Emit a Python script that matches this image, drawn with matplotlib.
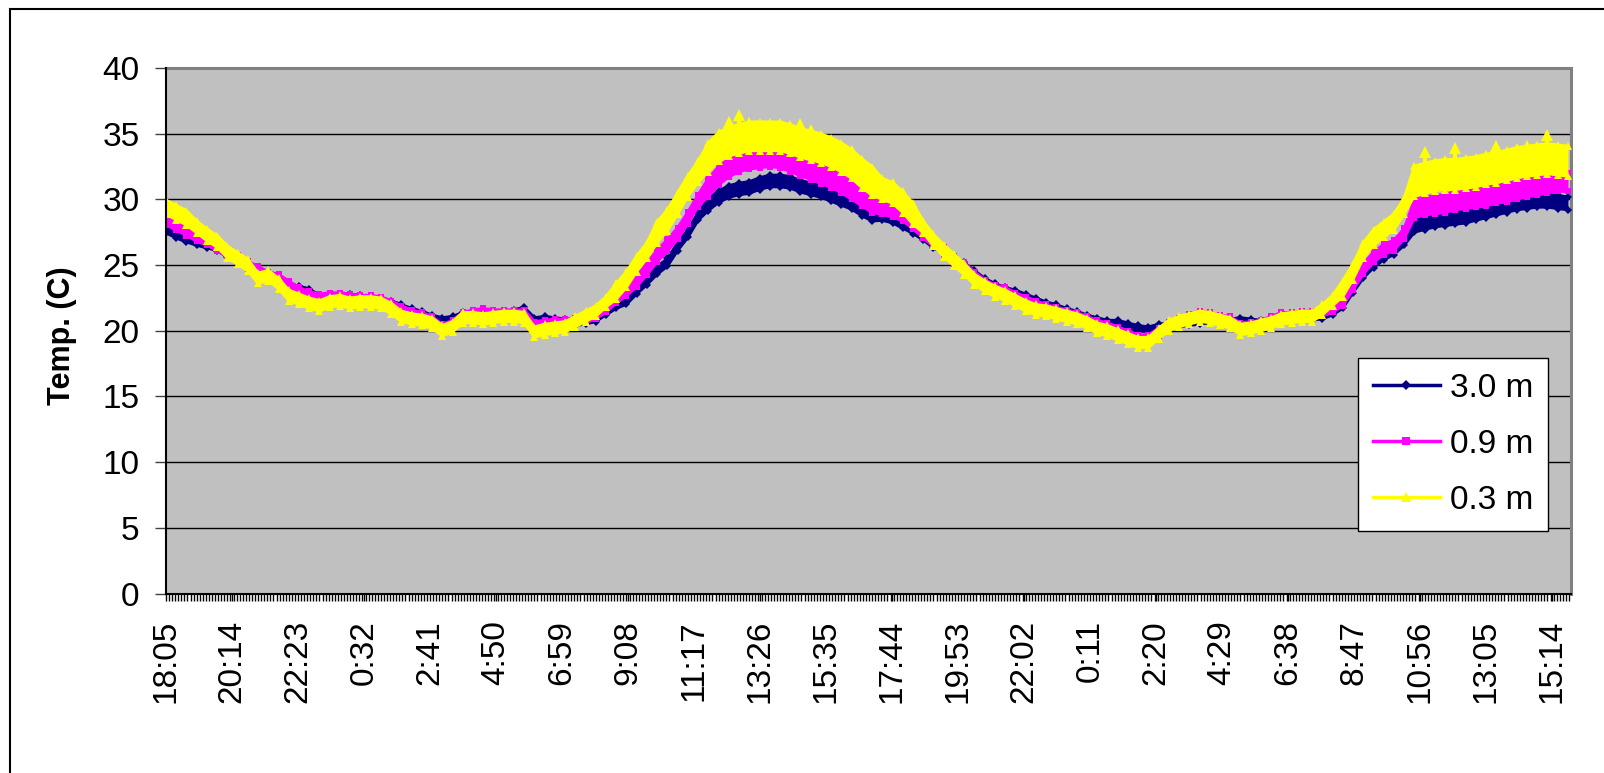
import numpy as np
import matplotlib
matplotlib.use("Agg")
import matplotlib.pyplot as plt
from matplotlib.lines import Line2D
from matplotlib.patches import Rectangle

plt.rcParams['font.family'] = ['Liberation Sans', 'DejaVu Sans']

# ---------------- data ----------------
step_min = 20          # readings every 20 minutes starting at 18:05
label_every_min = 129  # category label spacing
tick_labels = ["18:05", "20:14", "22:23", "0:32", "2:41", "4:50", "6:59", "9:08",
               "11:17", "13:26", "15:35", "17:44", "19:53", "22:02", "0:11", "2:20",
               "4:29", "6:38", "8:47", "10:56", "13:05", "15:14"]
series_names = ["3.0 m", "0.9 m", "0.3 m"]

temp_3_0m = [
    27.7, 27.3, 27.0, 26.7, 26.5, 26.3, 25.8, 25.4, 25.0, 24.6,
    24.2, 23.8, 23.4, 23.2, 23.0, 22.5, 22.6, 22.6, 22.6, 22.5,
    22.4, 22.3, 22.1, 21.8, 21.5, 21.3, 21.0, 20.8, 20.9, 21.2,
    21.3, 21.4, 21.3, 21.3, 21.4, 21.6, 20.8, 20.9, 20.8, 20.7,
    20.6, 20.7, 20.9, 21.4, 21.9, 22.3, 23.1, 23.8, 24.6, 25.2,
    26.4, 27.4, 28.7, 29.6, 30.2, 30.6, 30.8, 30.9, 31.2, 31.4,
    31.4, 31.3, 31.0, 30.8, 30.6, 30.3, 30.0, 29.7, 29.2, 28.8,
    28.7, 28.5, 28.1, 27.7, 27.2, 26.5, 26.1, 25.5, 25.0, 24.4,
    23.8, 23.4, 23.1, 22.9, 22.6, 22.3, 22.0, 21.8, 21.5, 21.3,
    21.0, 20.8, 20.6, 20.6, 20.4, 20.2, 20.1, 20.3, 20.4, 20.5,
    20.6, 20.7, 20.8, 20.7, 20.7, 20.8, 20.7, 20.6, 20.7, 20.9,
    20.9, 21.0, 21.0, 21.1, 21.4, 22.0, 23.2, 24.3, 25.1, 25.7,
    26.1, 26.8, 28.0, 28.2, 28.4, 28.5, 28.6, 28.7, 28.9, 29.1,
    29.3, 29.5, 29.7, 29.8, 29.9, 29.9, 29.8, 29.7]

temp_0_9m = [
    28.4, 28.0, 27.6, 27.1, 26.8, 26.4, 25.9, 25.5, 25.0, 24.6,
    24.2, 24.0, 23.5, 23.0, 22.7, 22.5, 22.6, 22.6, 22.5, 22.4,
    22.4, 22.3, 22.0, 21.6, 21.3, 21.1, 20.8, 20.2, 20.5, 21.1,
    21.3, 21.4, 21.3, 21.3, 21.3, 21.3, 20.4, 20.5, 20.6, 20.6,
    20.7, 20.9, 21.2, 21.7, 22.4, 23.1, 23.8, 24.7, 25.7, 26.5,
    27.4, 28.6, 29.9, 30.9, 31.8, 32.4, 32.8, 33.0, 33.1, 33.2,
    33.1, 32.8, 32.5, 32.2, 31.9, 31.6, 31.2, 30.7, 30.2, 29.7,
    29.3, 29.1, 28.8, 28.2, 27.5, 26.7, 26.1, 25.4, 24.9, 24.2,
    23.6, 23.2, 23.0, 22.6, 22.3, 22.0, 21.7, 21.5, 21.3, 21.1,
    20.8, 20.5, 20.3, 20.0, 19.7, 19.4, 19.4, 19.9, 20.4, 20.7,
    21.0, 21.2, 21.1, 20.9, 20.8, 20.3, 20.4, 20.5, 20.8, 21.1,
    21.1, 21.2, 21.2, 21.4, 21.7, 22.3, 23.5, 24.7, 25.6, 26.2,
    26.5, 27.4, 29.3, 29.5, 29.6, 29.7, 29.9, 30.0, 30.1, 30.2,
    30.4, 30.5, 30.7, 30.9, 31.0, 31.2, 31.3, 31.3]

temp_0_3m = [
    29.4, 29.0, 28.6, 27.9, 27.3, 26.8, 26.0, 25.5, 25.0, 24.0,
    24.2, 23.6, 22.7, 22.4, 22.1, 21.9, 22.2, 22.3, 22.1, 22.2,
    22.2, 22.1, 21.7, 21.1, 20.9, 20.8, 20.6, 20.0, 20.3, 21.0,
    21.0, 20.9, 21.0, 21.1, 21.1, 21.0, 19.9, 20.1, 20.2, 20.3,
    20.7, 21.1, 21.5, 22.2, 23.0, 23.9, 25.1, 26.1, 27.5, 28.4,
    29.7, 31.0, 32.1, 33.2, 34.0, 34.4, 34.6, 34.8, 34.8, 34.8,
    34.8, 34.6, 34.3, 34.1, 33.9, 33.6, 33.2, 32.7, 32.0, 31.4,
    30.8, 30.5, 29.8, 28.9, 27.9, 26.9, 26.1, 25.4, 24.7, 23.9,
    23.4, 23.0, 22.7, 22.3, 21.9, 21.6, 21.5, 21.3, 21.1, 20.9,
    20.6, 20.2, 20.0, 19.7, 19.4, 19.1, 19.1, 19.8, 20.4, 20.7,
    20.9, 21.1, 21.0, 20.8, 20.6, 20.1, 20.2, 20.4, 20.6, 20.9,
    21.0, 21.1, 21.1, 21.6, 22.3, 23.2, 24.5, 26.1, 27.1, 27.7,
    28.3, 29.5, 31.4, 31.6, 31.8, 31.9, 31.9, 32.0, 32.1, 32.3,
    32.4, 32.6, 32.8, 32.9, 33.0, 33.1, 33.0, 32.9]

spread_3_0m = ([0.25] * 3 + [0.2] * 42 + [0.3] * 8 + [0.45] * 17 + [0.3] * 5 +
               [0.2] * 40 + [0.3] * 7 + [0.5] * 16)
spread_0_9m = ([0.35] * 3 + [0.3] * 42 + [0.45] * 8 + [0.7] * 17 + [0.45] * 5 +
               [0.3] * 40 + [0.4] * 7 + [0.7] * 16)
spread_0_3m = ([0.55] * 3 + [0.45] * 6 + [0.4] * 35 + [0.6] * 4 + [0.8] * 5 +
               [1.1] * 17 + [0.8] * 4 + [0.45] * 5 + [0.4] * 36 + [0.6] * 7 +
               [1.15] * 16)

# isolated high readings of the 0.3 m sensor (minute from start, value)
peak_0_3m_min = [1100, 1120, 1140, 1180, 1240, 1260, 2460, 2520, 2600, 2660, 2700]
peak_0_3m_val = [35.9, 36.4, 35.8, 35.6, 35.7, 35.3, 33.6, 33.9, 34.1, 34.1, 34.9]

# ---------------- figure ----------------
W, H = 1604, 773
fig = plt.figure(figsize=(W / 100, H / 100), dpi=100)
ax = fig.add_axes([166 / W, 179.5 / H, 1405 / W, 525.5 / H])
ax.set_facecolor('#C0C0C0')

minutes = np.arange(len(temp_3_0m)) * step_min

styles = [
    ("#000080", "D", 4.5),
    ("#FF00FF", "s", 5.0),
    ("#FFFF00", "^", 5.5),
]
data = [(temp_3_0m, spread_3_0m), (temp_0_9m, spread_0_9m), (temp_0_3m, spread_0_3m)]

for k, ((vals, spr), (col, mk, ms)) in enumerate(zip(data, styles)):
    c = np.array(vals)
    h = np.array(spr)
    z = 3 + k
    ax.fill_between(minutes, c - h, c + h, color=col, lw=0, zorder=z)
    ax.plot(minutes, c + h, color=col, lw=2, marker=mk, ms=ms, mew=0, zorder=z)
    ax.plot(minutes, c - h, color=col, lw=2, marker=mk, ms=ms, mew=0, zorder=z)

# spikes of the 0.3 m sensor, rising from the top of its band
top_0_3m = np.array(temp_0_3m) + np.array(spread_0_3m)
peak_idx = [m // step_min for m in peak_0_3m_min]
ax.vlines(peak_0_3m_min, top_0_3m[peak_idx], peak_0_3m_val, color="#FFFF00", lw=3, zorder=5)
ax.plot(peak_0_3m_min, peak_0_3m_val, ls='none', marker='^', ms=8, mew=0,
        color="#FFFF00", zorder=6)

# axes limits / ticks
ax.set_xlim(0, 2746)
ax.set_ylim(0, 40)
ax.set_yticks(range(0, 41, 5))
ax.set_xticks([i * label_every_min for i in range(len(tick_labels))])
ax.set_xticklabels(tick_labels, rotation=90, fontsize=24)
ax.set_xticks(np.arange(0, 2747, 6), minor=True)
ax.tick_params(axis='x', which='both', direction='out', length=5, width=1,
               color='black')
ax.tick_params(axis='x', which='major', pad=14)
ax.tick_params(axis='y', which='major', direction='out', length=8, width=1,
               pad=11, labelsize=24, color='#404040')

ax.yaxis.grid(True, color='black', lw=1)
ax.set_axisbelow(True)

for s in ('top', 'right'):
    ax.spines[s].set_color('#808080')
    ax.spines[s].set_linewidth(2.2)
for s in ('left', 'bottom'):
    ax.spines[s].set_color('black')
    ax.spines[s].set_linewidth(1.5)
    ax.spines[s].set_zorder(10)

ax.set_ylabel("Temp. (C)", fontsize=22, fontweight='bold', va='center')
ax.yaxis.set_label_coords((62 - 166) / 1405, 0.49)

# legend
handles = [Line2D([0], [0], color=col, lw=2.5, marker=mk, ms=ms + 1, mew=0)
           for col, mk, ms in styles]
leg = fig.legend(handles, series_names, loc='upper left',
                 bbox_to_anchor=(1358 / W, 1 - 358 / H), bbox_transform=fig.transFigure,
                 fontsize=24, frameon=True, fancybox=False, edgecolor='black',
                 facecolor='white', framealpha=1, borderpad=0.45, labelspacing=0.75,
                 handlelength=2.0, handletextpad=0.3, borderaxespad=0)
leg.get_frame().set_linewidth(1)

# outer chart border (only top and left visible in the crop)
fig.add_artist(Rectangle((10 / W, -0.2), 1.5, 1 - 9 / H + 0.2, transform=fig.transFigure,
                         fill=False, ec='black', lw=1.5, clip_on=False))

fig.savefig('out.png', dpi=100)
